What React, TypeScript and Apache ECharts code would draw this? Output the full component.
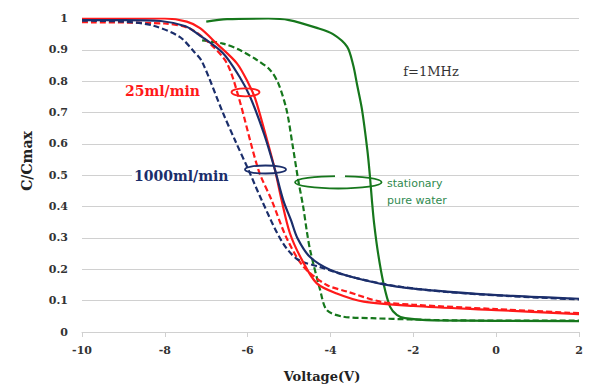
import React, { useEffect, useRef } from "react";
import * as echarts from "echarts";

const xTicks = { min: -10, max: 2, interval: 2 };
const yTicks = { min: 0, max: 1, interval: 0.1 };

// [Voltage (V), C/Cmax]
const navySolid: number[][] = [
  [-10, 0.995], [-9, 0.995], [-8.1, 0.992], [-7.5, 0.975], [-7.2, 0.95], [-6.6, 0.89],
  [-6.2, 0.815], [-5.94, 0.75], [-5.6, 0.63], [-5.34, 0.517], [-5.14, 0.42], [-4.95, 0.355],
  [-4.8, 0.3], [-4.5, 0.24], [-4.0, 0.198], [-3.2, 0.166], [-2.4, 0.145], [-1.2, 0.129],
  [0.4, 0.115], [2, 0.106],
];
const navyDashed: number[][] = [
  [-10, 0.993], [-9, 0.99], [-8.3, 0.978], [-7.65, 0.942], [-7.3, 0.895], [-7.1, 0.862],
  [-6.6, 0.7], [-6.3, 0.61], [-5.98, 0.517], [-5.66, 0.42], [-5.18, 0.29], [-4.8, 0.232],
  [-4.25, 0.207], [-3.5, 0.176], [-2.4, 0.146], [-1.2, 0.128], [0.4, 0.114], [2, 0.104],
];
const redSolid: number[][] = [
  [-10, 1.0], [-8, 1.0], [-7.47, 0.99], [-7.15, 0.969], [-6.75, 0.92], [-6.26, 0.857],
  [-5.98, 0.793], [-5.82, 0.745], [-5.6, 0.645], [-5.34, 0.517], [-5.18, 0.42], [-4.98, 0.315],
  [-4.69, 0.23], [-4.33, 0.155], [-3.85, 0.123], [-3.2, 0.097], [-2, 0.083], [0, 0.07], [2, 0.057],
];
const redDashed: number[][] = [
  [-10, 0.988], [-8, 0.984], [-7.4, 0.968], [-6.91, 0.92], [-6.5, 0.857], [-6.22, 0.75],
  [-5.74, 0.517], [-5.42, 0.42], [-5.06, 0.3], [-4.65, 0.208], [-4.09, 0.15], [-3.6, 0.129],
  [-2.8, 0.097], [-2, 0.087], [0, 0.073], [2, 0.06],
];
const greenSolid: number[][] = [
  [-7, 0.99], [-6.5, 0.998], [-5.5, 1.0], [-5, 0.995], [-4.33, 0.97], [-3.94, 0.95],
  [-3.6, 0.91], [-3.45, 0.85], [-3.36, 0.79], [-3.24, 0.71], [-3.11, 0.58], [-3.05, 0.5],
  [-3.0, 0.42], [-2.95, 0.35], [-2.85, 0.25], [-2.72, 0.155], [-2.56, 0.08], [-2.4, 0.055],
  [-2.2, 0.044], [-1.5, 0.037], [2, 0.035],
];
const greenDashed: number[][] = [
  [-7.1, 0.93], [-6.6, 0.92], [-6.2, 0.9], [-5.78, 0.868], [-5.46, 0.836], [-5.26, 0.793],
  [-5.06, 0.708], [-4.92, 0.6], [-4.78, 0.485], [-4.66, 0.4], [-4.57, 0.32], [-4.49, 0.26],
  [-4.25, 0.134], [-4.09, 0.07], [-3.7, 0.049], [-3, 0.044], [-2, 0.04], [-1, 0.037], [2, 0.036],
];

const NAVY = "#1b2e6b";
const RED = "#ff1a1a";
const GREEN = "#16771c";

export default function App() {
  const ref = useRef<HTMLDivElement>(null);
  useEffect(() => {
    if (!ref.current) return;
    const chart = echarts.init(ref.current, null, { renderer: "svg" });
    const line = (data: number[][], color: string, dashed: boolean, z: number) => ({
      type: "line",
      data,
      smooth: 0.3,
      showSymbol: false,
      symbol: "none",
      z,
      lineStyle: { color, width: 2.2, type: dashed ? [6, 3] : "solid" },
    });
    chart.setOption({
      animation: false,
      backgroundColor: "#ffffff",
      grid: { left: 82, right: 16, top: 18.5, bottom: 53 },
      xAxis: {
        type: "value",
        min: xTicks.min,
        max: xTicks.max,
        interval: xTicks.interval,
        axisLine: { show: true, lineStyle: { color: "#d0d0d0", width: 1 } },
        axisTick: { show: true, inside: false, length: 5, lineStyle: { color: "#d0d0d0" } },
        splitLine: { show: false },
        axisLabel: {
          margin: 13,
          color: "#333",
          fontFamily: "DejaVu Serif",
          fontWeight: "bold",
          fontSize: 11,
        },
      },
      yAxis: {
        type: "value",
        min: yTicks.min,
        max: yTicks.max,
        interval: yTicks.interval,
        axisLine: { show: false },
        axisTick: { show: false },
        splitLine: { show: true, lineStyle: { color: "#d0d0d0", width: 1 } },
        axisLabel: {
          margin: 14,
          color: "#333",
          fontFamily: "DejaVu Serif",
          fontWeight: "bold",
          fontSize: 11,
          formatter: (v: number) => String(Math.round(v * 10) / 10),
        },
      },
      series: [
        line(greenDashed, GREEN, true, 2),
        line(greenSolid, GREEN, false, 2),
        line(redDashed, RED, true, 3),
        line(navyDashed, NAVY, true, 3),
        line(redSolid, RED, false, 4),
        line(navySolid, NAVY, false, 5),
      ],
      graphic: [
        {
          type: "text",
          x: 27,
          y: 161,
          rotation: Math.PI / 2,
          z: 100,
          style: {
            text: "C/Cmax",
            fill: "#222",
            font: "bold 14px 'DejaVu Serif'",
            textAlign: "center",
            textVerticalAlign: "middle",
          },
        },
        {
          type: "text",
          x: 322,
          y: 376,
          z: 100,
          style: {
            text: "Voltage(V)",
            fill: "#222",
            font: "bold 13px 'DejaVu Serif'",
            textAlign: "center",
            textVerticalAlign: "middle",
          },
        },
        {
          type: "text",
          x: 431,
          y: 71,
          z: 100,
          style: {
            text: "f=1MHz",
            fill: "#333",
            font: "13px 'DejaVu Serif'",
            textAlign: "center",
            textVerticalAlign: "middle",
          },
        },
        {
          type: "text",
          x: 125,
          y: 91,
          z: 100,
          style: {
            text: "25ml/min",
            fill: RED,
            font: "bold 14px 'DejaVu Serif'",
            textAlign: "left",
            textVerticalAlign: "middle",
          },
        },
        {
          type: "rect",
          z: 99,
          shape: { x: 132, y: 169, width: 96, height: 14 },
          style: { fill: "#ffffff" },
        },
        {
          type: "text",
          x: 134,
          y: 176,
          z: 100,
          style: {
            text: "1000ml/min",
            fill: NAVY,
            font: "bold 14px 'DejaVu Serif'",
            textAlign: "left",
            textVerticalAlign: "middle",
          },
        },
        {
          type: "text",
          x: 387,
          y: 183,
          z: 100,
          style: {
            text: "stationary",
            fill: "#2f8a4f",
            font: "11px 'DejaVu Sans'",
            textAlign: "left",
            textVerticalAlign: "middle",
          },
        },
        {
          type: "text",
          x: 387,
          y: 200,
          z: 100,
          style: {
            text: "pure water",
            fill: "#2f8a4f",
            font: "11px 'DejaVu Sans'",
            textAlign: "left",
            textVerticalAlign: "middle",
          },
        },
        {
          type: "ellipse",
          z: 10,
          shape: { cx: 245.5, cy: 92.3, rx: 14, ry: 4 },
          style: { fill: "none", stroke: RED, lineWidth: 1.8 },
        },
        {
          type: "ellipse",
          z: 10,
          shape: { cx: 265.5, cy: 169.5, rx: 20.5, ry: 4 },
          style: { fill: "none", stroke: NAVY, lineWidth: 1.8 },
        },
        {
          type: "ellipse",
          z: 10,
          shape: { cx: 338.3, cy: 182.3, rx: 43.3, ry: 6.2 },
          style: { fill: "none", stroke: GREEN, lineWidth: 1.8 },
        },
        {
          type: "line",
          z: 11,
          shape: { x1: 335, y1: 176.1, x2: 345, y2: 176.1 },
          style: { stroke: "#ffffff", lineWidth: 3 },
        },
      ],
    });
    return () => chart.dispose();
  }, []);
  return (
    <div
      ref={ref}
      style={{ position: "absolute", left: 0, top: 0, width: 595, height: 385 }}
    />
  );
}
